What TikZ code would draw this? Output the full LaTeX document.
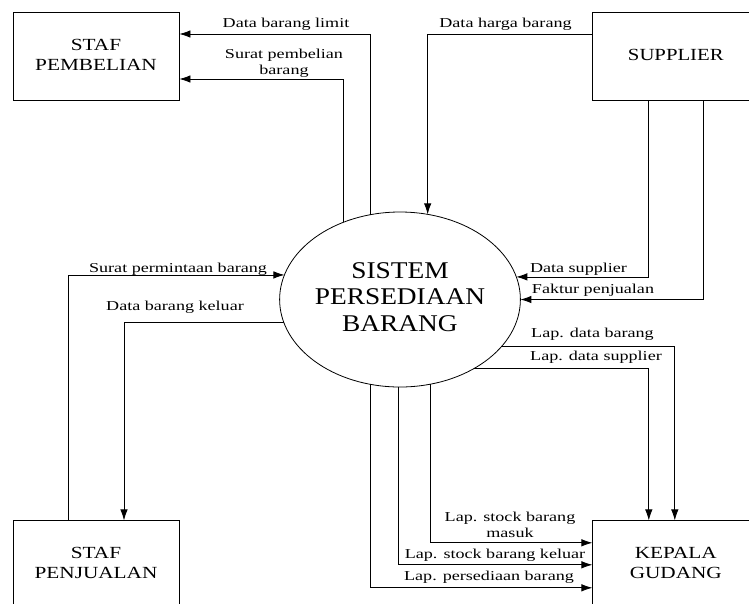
\documentclass[tikz,border=0pt]{standalone}
\usepackage{fontspec}
\setmainfont{Liberation Serif}
\usetikzlibrary{arrows.meta,positioning,shapes.geometric}
\tikzstyle{post}=[->,>={Latex[length=11pt,width=7.5pt]}]
\tikzstyle{entity}=[draw,rectangle,minimum width=166pt,minimum height=88pt,inner sep=0pt,font=\fontsize{17}{20}\selectfont]
\tikzstyle{process}=[draw,ellipse,minimum width=221pt,minimum height=175pt,inner sep=0pt,outer sep=0pt,font=\fontsize{24}{26.5}\selectfont]
\tikzstyle{flow}=[anchor=base,inner sep=0pt,font=\fontsize{13.6}{16}\selectfont]
\newcommand{\stretchtxt}[2]{\scalebox{#1}[1]{\begin{tabular}[b]{@{}c@{}}#2\end{tabular}}}

\begin{document}
\begin{tikzpicture}[x=1pt,y=-1pt,line width=0.8pt]
            \useasboundingbox (0,0) rectangle (749,603);
            \node (spb) [entity] at (96,56) {\stretchtxt{1.25}{STAF\\PEMBELIAN}};
            \node (sup) [entity] [right=413pt of spb] {\stretchtxt{1.22}{SUPPLIER}};
            \node (spj) [entity] [below=420pt of spb] {\stretchtxt{1.25}{STAF\\PENJUALAN}};
            \node (kg) [entity] [below=420pt of sup] {\stretchtxt{1.25}{KEPALA\\GUDANG}};
            \node (sys) [process] at (400,299.5) {\stretchtxt{1.14}{SISTEM\\PERSEDIAAN\\BARANG}};

            \draw[post] (sys.109) |- ([yshift=22pt]spb.east);
            \draw[post] (sys.126.6) |- ([yshift=-23pt]spb.east);
            \draw[post] ([yshift=22pt]sup.west) -| (sys.72.3);
            
            \draw[post] ([xshift=-27pt]sup.south) |- (sys.11.9);
            \draw[post] ([xshift=28pt]sup.south) |- (sys.east);
            
            \draw[post] (sys.335.6) -| ([xshift=-1pt]kg.north);
            \draw[post] (sys.317.2) -| ([xshift=-27pt]kg.north);
            \draw[post] (sys.290.3) |- ([yshift=22pt]kg.west);
            \draw[post] (sys.269) |- (kg.west);
            \draw[post] (sys.251.7) |- ([yshift=-23pt]kg.west);
            
            \draw[post] ([xshift=-28pt]spj.north) |- (sys.168.65);
            \draw[post] (sys.191.9) -| ([xshift=28pt]spj.north);

            \node (tlimit) [flow] at (286,27.5) {\stretchtxt{1.33}{Data barang limit}};
            \node (tbeli) [flow] at (284,74) {\stretchtxt{1.33}{Surat pembelian\\barang}};
            \node (tharga) [flow] at (505.5,27.5) {\stretchtxt{1.33}{Data harga barang}};
            \node (tsupp) [flow] at (578.5,272) {\stretchtxt{1.33}{Data supplier}};
            \node (tfaktur) [flow] at (593,293) {\stretchtxt{1.33}{Faktur penjualan}};
            \node (tlbrg) [flow] at (592.5,337) {\stretchtxt{1.33}{Lap. data barang}};
            \node (tlsupp) [flow] at (596,360) {\stretchtxt{1.33}{Lap. data supplier}};
            \node (tmasuk) [flow] at (510,537) {\stretchtxt{1.33}{Lap. stock barang\\masuk}};
            \node (tkeluar) [flow] at (495,558) {\stretchtxt{1.33}{Lap. stock barang keluar}};
            \node (tsedia) [flow] at (489,580) {\stretchtxt{1.33}{Lap. persediaan barang}};
            \node (tminta) [flow] at (178,272) {\stretchtxt{1.33}{Surat permintaan barang}};
            \node (tbkeluar) [flow] at (175,310) {\stretchtxt{1.33}{Data barang keluar}};
\end{tikzpicture}
\end{document}
